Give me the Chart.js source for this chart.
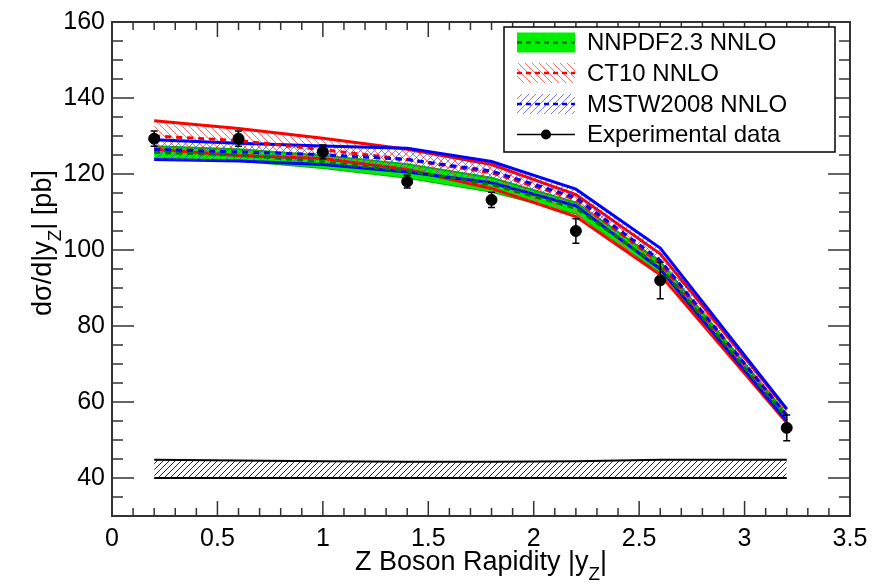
<!DOCTYPE html>
<html><head><meta charset="utf-8">
<script src="https://cdn.jsdelivr.net/npm/chart.js@4/dist/chart.umd.min.js"></script>
<style>html,body{margin:0;padding:0;background:#fff;}canvas{display:block}</style>
</head><body>
<canvas id="c" width="886" height="588"></canvas>
<script>
// ---- data ----
const rapidity      = [0.2, 0.6, 1.0, 1.4, 1.8, 2.2, 2.6, 3.2];
const expValues     = [129.3, 129.3, 125.8, 118.0, 113.2, 105.0, 92.0, 53.2];
const expErrors     = [2.0, 2.0, 1.8, 1.7, 2.0, 3.2, 4.8, 3.4];
const nnpdfCentral  = [125.7, 125.0, 123.2, 120.8, 117.2, 111.0, 95.5, 55.8];
const nnpdfLow      = [124.3, 123.5, 121.6, 119.0, 115.3, 109.6, 94.0, 54.8];
const nnpdfHigh     = [127.3, 126.5, 124.9, 122.6, 119.0, 112.5, 97.0, 56.8];
const ct10Central   = [130.0, 128.8, 126.4, 123.8, 120.3, 113.3, 96.5, 56.5];
const ct10Low       = [126.5, 124.9, 124.1, 121.2, 116.2, 108.8, 93.5, 54.5];
const ct10High      = [134.0, 132.0, 129.4, 126.5, 122.5, 114.6, 99.0, 58.0];
const mstwCentral   = [126.5, 125.8, 125.1, 123.8, 120.8, 113.8, 97.3, 56.5];
const mstwLow       = [123.8, 123.4, 122.5, 120.5, 117.7, 111.6, 95.0, 55.0];
const mstwHigh      = [129.0, 128.1, 127.4, 126.8, 123.3, 116.0, 100.5, 58.2];
const sysLow        = [40, 40, 40, 40, 40, 40, 40, 40];
const sysHigh       = [44.8, 44.6, 44.4, 44.3, 44.3, 44.4, 44.8, 44.8];

const xTickValues = [0, 0.5, 1, 1.5, 2, 2.5, 3, 3.5];
const xTickLabels = ['0', '0.5', '1', '1.5', '2', '2.5', '3', '3.5'];
const yTickValues = [40, 60, 80, 100, 120, 140, 160];
const yTickLabels = ['40', '60', '80', '100', '120', '140', '160'];
const seriesNames = ['NNPDF2.3 NNLO', 'CT10 NNLO', 'MSTW2008 NNLO', 'Experimental data'];
const xTitleParts = [['Z Boson Rapidity |y', false], ['Z', true], ['|', false]];
const yTitleParts = [['d\u03C3/d|y', false], ['Z', true], ['| [pb]', false]];

// ---- helpers ----
const FONT = '"Liberation Sans", Arial, Helvetica, sans-serif';
const pts = arr => arr.map((v, i) => ({x: rapidity[i], y: v}));
function hatch(color, dir, s, lw) {
  const c = document.createElement('canvas'); c.width = s; c.height = s;
  const g = c.getContext('2d'); g.strokeStyle = color; g.lineWidth = lw;
  g.beginPath();
  for (let k = -1; k <= 1; k++) {
    if (dir === '/') { g.moveTo(k * s, s); g.lineTo(k * s + s, 0); }
    else { g.moveTo(k * s, 0); g.lineTo(k * s + s, s); }
  }
  g.stroke();
  return g.createPattern(c, 'repeat');
}
const GREEN_FILL = '#00ee00', GREEN_EDGE = '#00b400', GREEN_DASH = '#007a00';
const redHatch = hatch('rgba(255,60,60,0.75)', '\\', 7, 1);
const blueHatch = hatch('rgba(60,60,255,0.7)', '/', 7, 1);
const blackHatch = hatch('rgba(0,0,0,0.85)', '/', 6, 1);

function line(data, color, width, extra) {
  return Object.assign({type: 'line', data: pts(data), borderColor: color, borderWidth: width,
    pointRadius: 0, tension: 0, fill: false, backgroundColor: 'transparent'}, extra || {});
}

const datasets = [
  line(sysLow, '#000', 2, {order: 100}),
  line(sysHigh, '#000', 2, {order: 99, fill: '-1', backgroundColor: blackHatch}),
  line(nnpdfLow, GREEN_EDGE, 2, {order: 80}),
  line(nnpdfHigh, GREEN_EDGE, 2, {order: 79, fill: '-1', backgroundColor: GREEN_FILL}),
  line(ct10Low, '#ff0000', 3, {order: 70}),
  line(ct10High, '#ff0000', 3, {order: 69, fill: '-1', backgroundColor: redHatch}),
  line(mstwLow, '#0000ff', 3, {order: 60}),
  line(mstwHigh, '#0000ff', 3, {order: 59, fill: '-1', backgroundColor: blueHatch}),
  line(nnpdfCentral, GREEN_DASH, 3, {order: 50, borderDash: [6, 5], label: seriesNames[0]}),
  line(ct10Central, '#ff0000', 3, {order: 49, borderDash: [6, 5], label: seriesNames[1]}),
  line(mstwCentral, '#0000ff', 3, {order: 48, borderDash: [6, 5], label: seriesNames[2]}),
  {type: 'scatter', label: seriesNames[3], data: pts(expValues), order: 1,
   pointRadius: 5.5, pointBackgroundColor: '#000', pointBorderColor: '#000', showLine: false}
];

function drawParts(ctx, parts, size) {
  let w = 0;
  parts.forEach(([t, sub]) => { ctx.font = (sub ? size * 0.7 : size) + 'px ' + FONT; w += ctx.measureText(t).width; });
  let x = -w / 2;
  parts.forEach(([t, sub]) => {
    ctx.font = (sub ? size * 0.7 : size) + 'px ' + FONT;
    ctx.fillText(t, x, sub ? size * 0.38 : 0);
    x += ctx.measureText(t).width;
  });
}

const decor = {
  id: 'decor',
  afterDatasetsDraw(chart) {
    const ctx = chart.ctx, xs = chart.scales.x, ys = chart.scales.y;
    ctx.save(); ctx.strokeStyle = '#000'; ctx.lineWidth = 1.5;
    rapidity.forEach((xv, i) => {
      const px = xs.getPixelForValue(xv);
      const y1 = ys.getPixelForValue(expValues[i] - expErrors[i]);
      const y2 = ys.getPixelForValue(expValues[i] + expErrors[i]);
      ctx.beginPath(); ctx.moveTo(px, y1); ctx.lineTo(px, y2);
      ctx.moveTo(px - 3.5, y1); ctx.lineTo(px + 3.5, y1);
      ctx.moveTo(px - 3.5, y2); ctx.lineTo(px + 3.5, y2); ctx.stroke();
    });
    ctx.restore();
  },
  afterDraw(chart) {
    const ctx = chart.ctx, a = chart.chartArea, xs = chart.scales.x, ys = chart.scales.y;
    ctx.save();
    ctx.strokeStyle = '#333'; ctx.lineWidth = 2;
    ctx.strokeRect(a.left, a.top, a.right - a.left, a.bottom - a.top);
    ctx.lineWidth = 1.5; ctx.beginPath();
    for (let k = 0; k <= 35; k++) {
      const v = k / 10, px = xs.getPixelForValue(v), L = (k % 5 === 0) ? 15 : 8;
      ctx.moveTo(px, a.bottom); ctx.lineTo(px, a.bottom - L);
      ctx.moveTo(px, a.top); ctx.lineTo(px, a.top + L);
    }
    for (let v = 30; v <= 160; v += 5) {
      const py = ys.getPixelForValue(v), L = (v % 20 === 0) ? 22 : 11;
      ctx.moveTo(a.left, py); ctx.lineTo(a.left + L, py);
      ctx.moveTo(a.right, py); ctx.lineTo(a.right - L, py);
    }
    ctx.stroke();
    ctx.fillStyle = '#000'; ctx.textBaseline = 'alphabetic'; ctx.textAlign = 'left';
    ctx.save(); ctx.translate((a.left + a.right) / 2, 570); drawParts(ctx, xTitleParts, 27); ctx.restore();
    ctx.save(); ctx.translate(51, 243); ctx.rotate(-Math.PI / 2); drawParts(ctx, yTitleParts, 27); ctx.restore();
    const L = {x0: 504, y0: 27, x1: 835, y1: 152};
    ctx.fillStyle = '#fff'; ctx.fillRect(L.x0, L.y0, L.x1 - L.x0, L.y1 - L.y0);
    ctx.strokeStyle = '#000'; ctx.lineWidth = 1.5; ctx.strokeRect(L.x0, L.y0, L.x1 - L.x0, L.y1 - L.y0);
    const rows = [42.5, 73, 104, 134.5];
    const sx0 = 517, sx1 = 575;
    const fills = [GREEN_FILL, redHatch, blueHatch];
    const dashes = [GREEN_DASH, '#ff0000', '#0000ff'];
    for (let i = 0; i < 3; i++) {
      const cy = rows[i];
      ctx.fillStyle = fills[i]; ctx.fillRect(sx0, cy - 10, sx1 - sx0, 20);
      ctx.strokeStyle = dashes[i]; ctx.lineWidth = 2.5; ctx.setLineDash([5, 4]);
      ctx.beginPath(); ctx.moveTo(sx0, cy); ctx.lineTo(sx1, cy); ctx.stroke(); ctx.setLineDash([]);
    }
    const cy = rows[3];
    ctx.strokeStyle = '#000'; ctx.lineWidth = 1.5;
    ctx.beginPath(); ctx.moveTo(sx0, cy); ctx.lineTo(sx1, cy); ctx.stroke();
    ctx.fillStyle = '#000'; ctx.beginPath(); ctx.arc((sx0 + sx1) / 2, cy, 5, 0, Math.PI * 2); ctx.fill();
    ctx.font = '24px ' + FONT; ctx.textBaseline = 'middle'; ctx.fillStyle = '#000';
    seriesNames.forEach((t, i) => ctx.fillText(t, 587, rows[i] + 1));
    ctx.restore();
  }
};

new Chart(document.getElementById('c'), {
  data: {datasets},
  options: {
    responsive: false, animation: false, devicePixelRatio: 1,
    layout: {padding: {left: 0, right: 36, top: 15, bottom: 0}},
    plugins: {legend: {display: false}, tooltip: {enabled: false}},
    scales: {
      x: {type: 'linear', min: 0, max: 3.5,
        grid: {display: false, drawTicks: false}, border: {display: false},
        afterBuildTicks: s => { s.ticks = xTickValues.map(v => ({value: v})); },
        afterFit: s => { s.height = 72; },
        ticks: {autoSkip: false, maxRotation: 0, padding: 8, color: '#000',
          font: {size: 25, family: FONT},
          callback: (v) => xTickLabels[xTickValues.indexOf(v)]}},
      y: {type: 'linear', min: 30, max: 160,
        grid: {display: false, drawTicks: false}, border: {display: false},
        afterBuildTicks: s => { s.ticks = yTickValues.map(v => ({value: v})); },
        afterFit: s => { s.width = 112; },
        ticks: {autoSkip: false, padding: 7, color: '#000',
          font: {size: 25, family: FONT},
          callback: (v) => yTickLabels[yTickValues.indexOf(v)]}}
    }
  },
  plugins: [decor]
});
</script></body></html>
